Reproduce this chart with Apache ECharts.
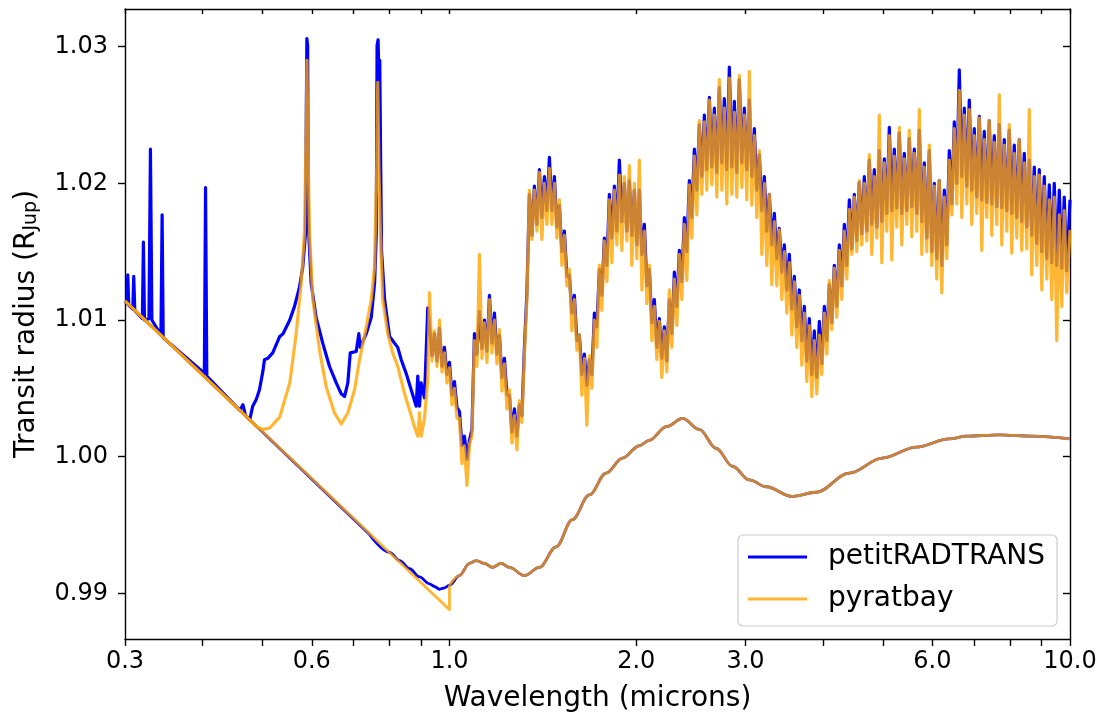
<!DOCTYPE html>
<html>
<head>
<meta charset="utf-8">
<script src="https://cdn.jsdelivr.net/npm/echarts@6/dist/echarts.min.js"></script>
<style>
html,body{margin:0;padding:0;background:#fff;}
#chart{width:1102px;height:718px;}
</style>
</head>
<body>
<div id="chart"></div>
<script>
// ---------- data (wavelength in microns, transit radius in R_Jup) ----------
const xLabelValues = [0.3, 0.6, 1.0, 2.0, 3.0, 6.0, 10.0];
const xTickValues = [0.3, 0.4, 0.5, 0.6, 0.7, 0.8, 0.9, 1.0, 2.0, 3.0, 4.0, 5.0, 6.0, 7.0, 8.0, 9.0, 10.0];
const yTickValues = [0.99, 1.00, 1.01, 1.02, 1.03];

// petitRADTRANS, visible/optical part of the clear spectrum
const prtOptLam = [0.3, 0.3020, 0.3031, 0.3042, 0.3088, 0.3099, 0.3111, 0.3200, 0.3212, 0.3225, 0.3279, 0.3297, 0.3315, 0.3428, 0.3443, 0.3457, 0.4027, 0.4045, 0.4064, 0.4591, 0.4648, 0.4692, 0.4765, 0.4819, 0.4884, 0.4941, 0.5006, 0.5033, 0.5095, 0.5190, 0.5327, 0.5393, 0.5529, 0.5627, 0.5732, 0.5803, 0.5861, 0.5878, 0.5891, 0.5908, 0.5921, 0.5932, 0.5985, 0.6097, 0.6249, 0.6408, 0.6570, 0.6693, 0.6775, 0.6858, 0.6920, 0.7075, 0.7144, 0.7182, 0.7344, 0.7481, 0.7574, 0.7622, 0.7644, 0.7673, 0.7696, 0.7721, 0.7749, 0.7772, 0.7861, 0.8008, 0.8158, 0.8254, 0.8361, 0.8515, 0.8675, 0.8837, 0.8891, 0.8947, 0.9003, 0.9115, 0.9226];
const prtOptR = [1.0114, 1.0112, 1.0133, 1.0111, 1.0108, 1.0132, 1.0107, 1.0101, 1.0157, 1.0100, 1.0101, 1.0225, 1.0100, 1.0089, 1.0177, 1.0087, 1.0061, 1.0197, 1.0059, 1.0034, 1.0038, 1.0030, 1.0027, 1.0037, 1.0042, 1.0049, 1.0063, 1.0071, 1.0072, 1.0076, 1.0088, 1.0090, 1.0100, 1.0110, 1.0124, 1.0139, 1.0163, 1.0246, 1.0306, 1.0301, 1.0188, 1.0164, 1.0127, 1.0102, 1.0083, 1.0066, 1.0054, 1.0046, 1.0044, 1.0054, 1.0076, 1.0077, 1.0090, 1.0080, 1.0090, 1.0102, 1.0127, 1.0163, 1.0301, 1.0305, 1.0280, 1.0290, 1.0210, 1.0151, 1.0115, 1.0088, 1.0083, 1.0080, 1.0071, 1.0061, 1.0049, 1.0037, 1.0059, 1.0037, 1.0054, 1.0043, 1.0109];

// pyratbay, visible/optical part of the clear spectrum
const pbOptLam = [0.3, 0.4765, 0.4884, 0.5006, 0.5133, 0.5327, 0.5529, 0.5662, 0.5768, 0.5839, 0.5876, 0.5893, 0.5911, 0.5949, 0.6023, 0.6174, 0.6330, 0.6528, 0.6693, 0.6858, 0.7032, 0.7164, 0.7344, 0.7481, 0.7574, 0.7634, 0.7664, 0.7696, 0.7730, 0.7806, 0.7954, 0.8100, 0.8254, 0.8467, 0.8626, 0.8780, 0.8891, 0.8947, 0.9003, 0.9115, 0.9226];
const pbOptR = [1.0114, 1.0027, 1.0022, 1.0020, 1.0021, 1.0029, 1.0054, 1.0090, 1.0127, 1.0164, 1.0237, 1.0290, 1.0237, 1.0164, 1.0115, 1.0078, 1.0051, 1.0032, 1.0024, 1.0032, 1.0049, 1.0071, 1.0095, 1.0115, 1.0139, 1.0212, 1.0274, 1.0212, 1.0173, 1.0115, 1.0090, 1.0076, 1.0066, 1.0046, 1.0034, 1.0022, 1.0015, 1.0032, 1.0015, 1.0028, 1.0056];

// shared infrared wavelength grid of the clear spectra
const irLam = [
  0.9286, 0.9373, 0.9459, 0.9547,
  0.9636, 0.9726, 0.9816, 0.9907,
  1.0000, 1.0093, 1.0187, 1.0282,
  1.0378, 1.0475, 1.0572, 1.0671,
  1.0770, 1.0870, 1.0971, 1.1073,
  1.1177, 1.1281, 1.1386, 1.1492,
  1.1599, 1.1707, 1.1816, 1.1926,
  1.2037, 1.2149, 1.2262, 1.2376,
  1.2492, 1.2608, 1.2725, 1.2844,
  1.2963, 1.3084, 1.3206, 1.3329,
  1.3453, 1.3578, 1.3705, 1.3833,
  1.3961, 1.4091, 1.4223, 1.4356,
  1.4489, 1.4624, 1.4760, 1.4898,
  1.5036, 1.5176, 1.5317, 1.5460,
  1.5604, 1.5749, 1.5896, 1.6044,
  1.6194, 1.6345, 1.6497, 1.6651,
  1.6806, 1.6963, 1.7120, 1.7280,
  1.7441, 1.7604, 1.7767, 1.7933,
  1.8100, 1.8269, 1.8439, 1.8611,
  1.8784, 1.8959, 1.9136, 1.9314,
  1.9494, 1.9676, 1.9859, 2.0044,
  2.0230, 2.0419, 2.0610, 2.0802,
  2.0995, 2.1191, 2.1388, 2.1587,
  2.1789, 2.1992, 2.2197, 2.2404,
  2.2612, 2.2823, 2.3036, 2.3251,
  2.3467, 2.3686, 2.3906, 2.4129,
  2.4354, 2.4581, 2.4810, 2.5041,
  2.5274, 2.5510, 2.5748, 2.5988,
  2.6230, 2.6474, 2.6721, 2.6970,
  2.7221, 2.7475, 2.7731, 2.7989,
  2.8250, 2.8513, 2.8779, 2.9047,
  2.9318, 2.9591, 2.9867, 3.0145,
  3.0426, 3.0710, 3.0995, 3.1284,
  3.1576, 3.1870, 3.2167, 3.2467,
  3.2769, 3.3074, 3.3383, 3.3694,
  3.4008, 3.4325, 3.4644, 3.4967,
  3.5293, 3.5622, 3.5954, 3.6289,
  3.6627, 3.6968, 3.7313, 3.7661,
  3.8011, 3.8365, 3.8723, 3.9084,
  3.9448, 3.9816, 4.0186, 4.0561,
  4.0939, 4.1321, 4.1705, 4.2094,
  4.2486, 4.2882, 4.3282, 4.3685,
  4.4092, 4.4503, 4.4918, 4.5337,
  4.5759, 4.6185, 4.6615, 4.7049,
  4.7488, 4.7931, 4.8377, 4.8828,
  4.9283, 4.9742, 5.0206, 5.0674,
  5.1146, 5.1623, 5.2103, 5.2589,
  5.3079, 5.3574, 5.4073, 5.4577,
  5.5085, 5.5598, 5.6116, 5.6639,
  5.7167, 5.7700, 5.8237, 5.8780,
  5.9328, 5.9881, 6.0438, 6.1001,
  6.1570, 6.2144, 6.2723, 6.3308,
  6.3897, 6.4493, 6.5093, 6.5700,
  6.6312, 6.6930, 6.7554, 6.8184,
  6.8818, 6.9459, 7.0107, 7.0760,
  7.1419, 7.2085, 7.2756, 7.3434,
  7.4118, 7.4809, 7.5506, 7.6210,
  7.6919, 7.7636, 7.8359, 7.9089,
  7.9826, 8.0570, 8.1321, 8.2079,
  8.2843, 8.3615, 8.4394, 8.5181,
  8.5974, 8.6775, 8.7584, 8.8400,
  8.9224, 9.0056, 9.0894, 9.1741,
  9.2595, 9.3458, 9.4329, 9.5208,
  9.6095, 9.6991, 9.7894, 9.8806,
  10.0
];
const prtIrR = [
  1.0096, 1.0074, 1.0090, 1.0070,
  1.0094, 1.0066, 1.0080, 1.0060,
  1.0069, 1.0045, 1.0055, 1.0036,
  1.0033, 1.0008, 1.0015, 0.9998,
  1.0012, 1.0020, 1.0090, 1.0075,
  1.0106, 1.0079, 1.0100, 1.0077,
  1.0118, 1.0083, 1.0105, 1.0075,
  1.0089, 1.0058, 1.0072, 1.0045,
  1.0045, 1.0018, 1.0035, 1.0015,
  1.0038, 1.0030, 1.0080, 1.0120,
  1.0192, 1.0162, 1.0198, 1.0170,
  1.0210, 1.0175, 1.0205, 1.0180,
  1.0219, 1.0180, 1.0205, 1.0168,
  1.0184, 1.0150, 1.0165, 1.0132,
  1.0133, 1.0105, 1.0118, 1.0085,
  1.0089, 1.0060, 1.0075, 1.0052,
  1.0071, 1.0060, 1.0105, 1.0095,
  1.0137, 1.0118, 1.0160, 1.0140,
  1.0192, 1.0160, 1.0198, 1.0165,
  1.0217, 1.0172, 1.0200, 1.0165,
  1.0202, 1.0162, 1.0195, 1.0155,
  1.0195, 1.0148, 1.0170, 1.0125,
  1.0137, 1.0098, 1.0115, 1.0080,
  1.0101, 1.0072, 1.0095, 1.0070,
  1.0115, 1.0090, 1.0135, 1.0110,
  1.0151, 1.0128, 1.0175, 1.0150,
  1.0202, 1.0175, 1.0225, 1.0195,
  1.0243, 1.0205, 1.0250, 1.0210,
  1.0263, 1.0212, 1.0255, 1.0208,
  1.0270, 1.0215, 1.0262, 1.0210,
  1.0285, 1.0212, 1.0260, 1.0208,
  1.0276, 1.0215, 1.0255, 1.0210,
  1.0261, 1.0205, 1.0240, 1.0195,
  1.0221, 1.0180, 1.0205, 1.0165,
  1.0192, 1.0155, 1.0178, 1.0145,
  1.0167, 1.0135, 1.0155, 1.0122,
  1.0148, 1.0108, 1.0132, 1.0095,
  1.0122, 1.0085, 1.0110, 1.0070,
  1.0101, 1.0060, 1.0092, 1.0058,
  1.0099, 1.0068, 1.0110, 1.0085,
  1.0126, 1.0098, 1.0140, 1.0110,
  1.0155, 1.0125, 1.0170, 1.0140,
  1.0188, 1.0152, 1.0192, 1.0158,
  1.0201, 1.0163, 1.0205, 1.0165,
  1.0217, 1.0170, 1.0210, 1.0168,
  1.0224, 1.0172, 1.0218, 1.0178,
  1.0241, 1.0180, 1.0225, 1.0182,
  1.0237, 1.0178, 1.0222, 1.0180,
  1.0233, 1.0183, 1.0225, 1.0178,
  1.0239, 1.0172, 1.0215, 1.0160,
  1.0224, 1.0150, 1.0200, 1.0145,
  1.0202, 1.0140, 1.0195, 1.0155,
  1.0224, 1.0185, 1.0245, 1.0200,
  1.0283, 1.0205, 1.0255, 1.0198,
  1.0261, 1.0195, 1.0240, 1.0190,
  1.0249, 1.0188, 1.0238, 1.0186,
  1.0246, 1.0185, 1.0235, 1.0183,
  1.0243, 1.0182, 1.0232, 1.0180,
  1.0239, 1.0178, 1.0228, 1.0175,
  1.0232, 1.0172, 1.0222, 1.0168,
  1.0217, 1.0162, 1.0212, 1.0156,
  1.0210, 1.0150, 1.0205, 1.0145,
  1.0199, 1.0142, 1.0200, 1.0140,
  1.0195, 1.0138, 1.0190, 1.0136,
  1.0188
];
const pbIrR = [
  1.0120, 1.0070, 1.0092, 1.0066,
  1.0100, 1.0062, 1.0076, 1.0054,
  1.0065, 1.0038, 1.0050, 1.0028,
  1.0028, 0.9995, 1.0008, 0.9979,
  1.0009, 1.0015, 1.0085, 1.0066,
  1.0148, 1.0072, 1.0098, 1.0069,
  1.0115, 1.0076, 1.0100, 1.0068,
  1.0093, 1.0048, 1.0068, 1.0035,
  1.0049, 1.0010, 1.0030, 1.0005,
  1.0041, 1.0025, 1.0075, 1.0115,
  1.0195, 1.0159, 1.0195, 1.0165,
  1.0208, 1.0159, 1.0200, 1.0170,
  1.0211, 1.0170, 1.0200, 1.0160,
  1.0188, 1.0140, 1.0162, 1.0125,
  1.0137, 1.0092, 1.0115, 1.0078,
  1.0089, 1.0045, 1.0072, 1.0023,
  1.0074, 1.0050, 1.0100, 1.0080,
  1.0140, 1.0107, 1.0158, 1.0128,
  1.0188, 1.0142, 1.0195, 1.0155,
  1.0206, 1.0151, 1.0205, 1.0158,
  1.0213, 1.0140, 1.0200, 1.0145,
  1.0217, 1.0122, 1.0165, 1.0112,
  1.0140, 1.0085, 1.0110, 1.0071,
  1.0099, 1.0058, 1.0092, 1.0062,
  1.0122, 1.0080, 1.0130, 1.0096,
  1.0148, 1.0115, 1.0170, 1.0129,
  1.0199, 1.0160, 1.0220, 1.0177,
  1.0246, 1.0192, 1.0245, 1.0195,
  1.0261, 1.0199, 1.0250, 1.0190,
  1.0276, 1.0195, 1.0255, 1.0185,
  1.0277, 1.0192, 1.0252, 1.0190,
  1.0279, 1.0197, 1.0250, 1.0188,
  1.0282, 1.0184, 1.0235, 1.0175,
  1.0224, 1.0148, 1.0200, 1.0140,
  1.0192, 1.0126, 1.0172, 1.0125,
  1.0166, 1.0115, 1.0150, 1.0105,
  1.0142, 1.0089, 1.0128, 1.0080,
  1.0118, 1.0067, 1.0105, 1.0055,
  1.0096, 1.0044, 1.0085, 1.0046,
  1.0089, 1.0060, 1.0105, 1.0075,
  1.0129, 1.0093, 1.0138, 1.0102,
  1.0151, 1.0115, 1.0165, 1.0130,
  1.0181, 1.0148, 1.0190, 1.0150,
  1.0202, 1.0155, 1.0200, 1.0158,
  1.0221, 1.0148, 1.0205, 1.0160,
  1.0250, 1.0142, 1.0215, 1.0165,
  1.0235, 1.0144, 1.0220, 1.0168,
  1.0241, 1.0155, 1.0218, 1.0170,
  1.0239, 1.0161, 1.0222, 1.0165,
  1.0254, 1.0148, 1.0212, 1.0150,
  1.0228, 1.0140, 1.0198, 1.0130,
  1.0202, 1.0120, 1.0190, 1.0145,
  1.0217, 1.0177, 1.0240, 1.0185,
  1.0268, 1.0175, 1.0250, 1.0185,
  1.0254, 1.0170, 1.0235, 1.0178,
  1.0248, 1.0151, 1.0232, 1.0175,
  1.0246, 1.0162, 1.0230, 1.0170,
  1.0265, 1.0155, 1.0228, 1.0165,
  1.0243, 1.0149, 1.0222, 1.0160,
  1.0232, 1.0151, 1.0215, 1.0152,
  1.0254, 1.0133, 1.0205, 1.0140,
  1.0206, 1.0122, 1.0198, 1.0130,
  1.0188, 1.0115, 1.0190, 1.0085,
  1.0177, 1.0110, 1.0180, 1.0120,
  1.0166
];

// lower (second) spectra
const prtLowStraightLam = [0.3, 0.4765, 0.7435];
const prtLowStraightR = [1.0114, 1.0027, 0.9943];
const prtLowBendLam = [0.7435, 0.8008, 0.8311, 0.8626, 0.8947, 0.9286, 0.9459, 0.9636, 0.9816, 1.0];
const prtLowBendR = [0.9943, 0.9930, 0.9924, 0.9918, 0.9912, 0.9907, 0.9905, 0.9903, 0.9904, 0.9906];
const pbLowLam = [0.3, 0.6, 1.0, 1.0];
const pbLowR = [1.0114, 0.9984, 0.9888, 0.9906];
const lowTailLam = [1.0, 1.0378, 1.0770, 1.1042, 1.1386, 1.1730, 1.2114, 1.2492, 1.3206, 1.3961, 1.4853, 1.578, 1.6806, 1.788, 1.900, 2.023, 2.0995, 2.237, 2.3745, 2.527, 2.692, 2.858, 3.043, 3.241, 3.558, 3.901, 4.409, 4.983, 5.653, 6.390, 6.806, 7.692, 8.700, 10.0];
const prtTailR = [0.9906, 0.9913, 0.9922, 0.9924, 0.9922, 0.9919, 0.9922, 0.9919, 0.9913, 0.9919, 0.9934, 0.9954, 0.9972, 0.9988, 0.9999, 1.0008, 1.0012, 1.0022, 1.0028, 1.0020, 1.0006, 0.9993, 0.9983, 0.9978, 0.9971, 0.9974, 0.9988, 0.9999, 1.0007, 1.0013, 1.0015, 1.0016, 1.0015, 1.0013];
const pbTailR = [0.9906, 0.9913, 0.9922, 0.9924, 0.9922, 0.9919, 0.9922, 0.9919, 0.9913, 0.9919, 0.9934, 0.9954, 0.9972, 0.9988, 0.9999, 1.0008, 1.0012, 1.0022, 1.0028, 1.0020, 1.0006, 0.9993, 0.9983, 0.9978, 0.9971, 0.9974, 0.9988, 0.9999, 1.0007, 1.0013, 1.0015, 1.0016, 1.0015, 1.0013];

// ---------- build ----------
function pairs(xs, ys) {
  const n = Math.min(xs.length, ys.length);
  const out = [];
  for (let i = 0; i < n; i++) out.push([xs[i], ys[i]]);
  return out;
}
const prtClear = pairs(prtOptLam, prtOptR).concat(pairs(irLam, prtIrR));
const pbClear = pairs(pbOptLam, pbOptR).concat(pairs(irLam, pbIrR));
const prtLowA = pairs(prtLowStraightLam, prtLowStraightR);
const prtLowB = pairs(prtLowBendLam, prtLowBendR).concat(pairs(lowTailLam.slice(1), prtTailR.slice(1)));
const pbLowHead = pairs(pbLowLam, pbLowR);
const pbLowTail = pairs(lowTailLam, pbTailR);

const FONT = 'DejaVu Sans';
const BLUE = '#0000ff';
const ORANGE = 'rgba(255,165,0,0.8)';
const yMin = 0.98666, yMax = 1.03276;
const SPEC_W = 3.2, LOW_W = 2.8;

const axisLineStyle = {color: '#000', width: 1.4};

function lineSeries(name, data, color, width, extra) {
  return Object.assign({
    name: name, type: 'line', data: data,
    xAxisIndex: 0, yAxisIndex: 0,
    symbol: 'none', showSymbol: false, silent: true, clip: true,
    lineStyle: {color: color, width: width, join: 'round', cap: 'butt'},
    itemStyle: {color: color},
    emphasis: {disabled: true}
  }, extra || {});
}

const chart = echarts.init(document.getElementById('chart'), null, {renderer: 'canvas'});
chart.setOption({
  animation: false,
  backgroundColor: '#ffffff',
  textStyle: {fontFamily: FONT},
  grid: {left: 125, right: 32, top: 9, bottom: 79, containLabel: false},
  legend: {
    orient: 'vertical', left: 738, top: 535,
    padding: [6, 12, 11, 10], itemGap: 10,
    icon: 'rect', itemWidth: 59, itemHeight: 3.2,
    backgroundColor: 'rgba(255,255,255,0.8)', borderColor: '#cccccc', borderWidth: 1.2, borderRadius: 5,
    textStyle: {fontSize: 28, fontFamily: FONT, color: '#000', lineHeight: 32, padding: [0, 0, 0, 16]},
    data: ['petitRADTRANS', 'pyratbay'],
    selectedMode: false
  },
  xAxis: [
    {
      type: 'log', logBase: 10, min: 0.3, max: 10, position: 'bottom',
      axisLine: {show: true, onZero: false, lineStyle: axisLineStyle},
      axisTick: {show: true, inside: false, length: 7, lineStyle: axisLineStyle, customValues: xTickValues},
      axisLabel: {show: true, customValues: xLabelValues, formatter: v => Number(v).toFixed(1),
                  fontSize: 24, fontFamily: FONT, color: '#000', margin: 11, showMinLabel: true, showMaxLabel: true},
      minorTick: {show: false}, splitLine: {show: false}, minorSplitLine: {show: false},
      name: 'Wavelength (microns)', nameLocation: 'middle', nameGap: 46,
      nameTextStyle: {fontSize: 28, fontFamily: FONT, color: '#000'}
    },
    {
      type: 'log', logBase: 10, min: 0.3, max: 10, position: 'top',
      axisLine: {show: true, onZero: false, lineStyle: axisLineStyle},
      axisTick: {show: true, inside: true, length: 5, lineStyle: axisLineStyle, customValues: xTickValues},
      axisLabel: {show: false}, splitLine: {show: false}, minorTick: {show: false}
    }
  ],
  yAxis: [
    {
      type: 'value', min: yMin, max: yMax, position: 'left',
      axisLine: {show: true, onZero: false, lineStyle: axisLineStyle},
      axisTick: {show: true, inside: false, length: 7, lineStyle: axisLineStyle, customValues: yTickValues},
      axisLabel: {show: true, customValues: yTickValues, formatter: v => Number(v).toFixed(2),
                  fontSize: 24, fontFamily: FONT, color: '#000', margin: 17},
      splitLine: {show: false},
      name: '{a|Transit radius (R}{b|Jup}{a|)}', nameLocation: 'middle', nameGap: 84, nameRotate: 90,
      nameTextStyle: {
        rich: {
          a: {fontSize: 28, fontFamily: FONT, color: '#000', lineHeight: 36, verticalAlign: 'bottom'},
          b: {fontSize: 19, fontFamily: FONT, color: '#000', lineHeight: 19, verticalAlign: 'bottom'}
        }
      }
    },
    {
      type: 'value', min: yMin, max: yMax, position: 'right',
      axisLine: {show: true, onZero: false, lineStyle: axisLineStyle},
      axisTick: {show: true, inside: true, length: 7, lineStyle: axisLineStyle, customValues: yTickValues},
      axisLabel: {show: false}, splitLine: {show: false}
    }
  ],
  series: [
    lineSeries('petitRADTRANS', prtClear, BLUE, SPEC_W, {z: 2}),
    lineSeries('petitRADTRANS', prtLowA, BLUE, LOW_W, {z: 2}),
    lineSeries('petitRADTRANS', prtLowB, BLUE, LOW_W, {z: 2, smooth: 0.35, smoothMonotone: 'x'}),
    lineSeries('pyratbay', pbClear, ORANGE, SPEC_W, {z: 3}),
    lineSeries('pyratbay', pbLowHead, ORANGE, LOW_W, {z: 3}),
    lineSeries('pyratbay', pbLowTail, ORANGE, LOW_W, {z: 3, smooth: 0.35, smoothMonotone: 'x'})
  ]
});
</script>
</body>
</html>
